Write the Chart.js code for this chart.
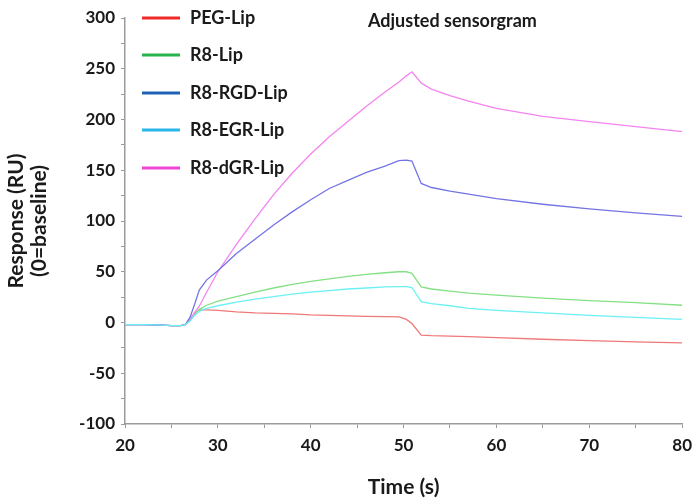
<!DOCTYPE html>
<html>
<head>
<meta charset="utf-8">
<script src="https://cdn.jsdelivr.net/npm/chart.js@4.4.1/dist/chart.umd.min.js"></script>
<style>
  html, body { margin: 0; padding: 0; background: #ffffff; }
  #wrap { width: 699px; height: 500px; position: relative; }
</style>
</head>
<body>
<div id="wrap"><canvas id="c" width="699" height="500"></canvas></div>
<script>
// ---- data ----
const timeS = [20, 22, 24, 25, 26, 26.5, 27, 27.5, 28, 28.8, 30, 32, 34, 36, 38, 40, 42, 44, 46, 48, 49.5, 50.3, 50.9, 51.9, 53, 55, 57, 60, 65, 70, 75, 80];
const pegLip  = [-2, -2, -2.5, -3, -3, -2, 2, 9, 12.5, 12.5, 12, 10.5, 9.5, 9, 8.5, 7.5, 7, 6.5, 6, 5.8, 5.5, 3, -1, -12.5, -13, -13.5, -14, -15, -16.5, -17.8, -19, -20];
const r8Lip   = [-2, -2, -2.5, -3, -3, -2, 2, 8, 13, 17, 21, 25.5, 30, 34, 37.5, 40.5, 43, 45.5, 47.5, 49, 50, 50, 48.5, 35, 33, 31, 29, 27, 24, 21.5, 19.5, 17];
const rgdLip  = [-2, -2, -2.5, -3, -3, -2, 5, 18, 32, 42, 51, 68, 82, 96, 109, 121, 132, 140, 148, 154, 159.5, 160, 159, 137, 133, 129.5, 126.5, 122, 116.5, 112, 108, 104.5];
const egrLip  = [-2, -2, -2.5, -3, -3, -2, 1.5, 7, 11, 14, 16.5, 20, 23, 25.5, 28, 30, 31.5, 33, 34, 35, 35.3, 35.3, 34.5, 20.5, 18.5, 16.5, 14, 12, 9.5, 7, 5, 3];
const dgrLip  = [-2, -2, -2.5, -3, -3, -2, 3, 10, 16, 30, 50, 77, 102, 126, 147, 166, 183, 198, 213, 227, 237, 243, 247, 236, 230, 223.5, 218, 211, 203, 198, 193, 188];

const seriesNames = ['PEG-Lip', 'R8-Lip', 'R8-RGD-Lip', 'R8-EGR-Lip', 'R8-dGR-Lip'];
const seriesValues = [pegLip, r8Lip, rgdLip, egrLip, dgrLip];
const lineColors   = ['#f07878', '#84e084', '#7474e4', '#6cf0f4', '#f484f0'];
const legendColors = ['#ee2a2a', '#2ab24e', '#1f62b4', '#29b6ea', '#f044d4'];
const drawOrder    = [4, 3, 1, 0, 2];
const yTicksMin = -100, yTicksMax = 300, yLabelStep = 50;
const xTicksMin = 20, xTicksMax = 80, xLabelStep = 10;
const chartTitle = 'Adjusted sensorgram';

const FONT = 'Lato, "Open Sans", sans-serif';
const TEXT = '#1a1a1a';
const AXIS = '#9a9a9a';

const datasets = seriesNames.map((name, i) => ({
  label: name,
  data: timeS.map((t, k) => ({ x: t, y: seriesValues[i][k] })),
  borderColor: lineColors[i],
  backgroundColor: lineColors[i],
  borderWidth: 1.3,
  pointRadius: 0,
  tension: 0,
  fill: false,
  order: drawOrder[i]
}));

const overlayPlugin = {
  id: 'overlay',
  afterDraw(chart) {
    const ctx = chart.ctx;
    ctx.save();
    ctx.font = 'bold 18px ' + FONT;
    ctx.textBaseline = 'middle';
    ctx.textAlign = 'left';
    const rows = [18, 55, 93, 130, 168];
    seriesNames.forEach((name, i) => {
      ctx.strokeStyle = legendColors[i];
      ctx.lineWidth = 3;
      ctx.beginPath();
      ctx.moveTo(142, rows[i]);
      ctx.lineTo(180, rows[i]);
      ctx.stroke();
      ctx.fillStyle = TEXT;
      ctx.fillText(name, 190, rows[i]);
    });
    ctx.font = 'bold 18px ' + FONT;
    ctx.fillText(chartTitle, 368, 21);
    ctx.restore();
  }
};

new Chart(document.getElementById('c'), {
  type: 'line',
  data: { datasets },
  options: {
    responsive: false,
    animation: false,
    devicePixelRatio: 1,
    layout: { padding: { top: 18, right: 15, left: 0, bottom: 0 } },
    plugins: { legend: { display: false }, tooltip: { enabled: false }, title: { display: false } },
    scales: {
      x: {
        type: 'linear',
        min: xTicksMin, max: xTicksMax,
        afterFit(s) { s.height = 76; },
        border: { display: true, color: AXIS, width: 1.5 },
        grid: { drawOnChartArea: false, drawTicks: true, tickLength: 4, color: AXIS },
        ticks: {
          stepSize: 5, autoSkip: false, maxRotation: 0, padding: 7,
          color: TEXT, font: { family: FONT, size: 17, weight: 'bold' },
          callback: v => (v % xLabelStep === 0 ? String(v) : '')
        },
        title: { display: true, text: 'Time (s)', color: TEXT, font: { family: FONT, size: 21, weight: 'bold' }, padding: { top: 0, bottom: 0 } }
      },
      y: {
        type: 'linear',
        min: yTicksMin, max: yTicksMax,
        afterFit(s) { s.width = 125; },
        border: { display: true, color: AXIS, width: 1.5 },
        grid: { drawOnChartArea: false, drawTicks: true, tickLength: 4, color: AXIS },
        ticks: {
          stepSize: 25, autoSkip: false, padding: 6,
          color: TEXT, font: { family: FONT, size: 17, weight: 'bold' },
          callback: v => (v % yLabelStep === 0 ? String(v) : '')
        },
        title: { display: true, text: ['Response (RU)', '(0=baseline)'], color: TEXT, font: { family: FONT, size: 21, weight: 'bold', lineHeight: 1.1 }, padding: { top: 5, bottom: 0 } }
      }
    }
  },
  plugins: [overlayPlugin]
});
</script>
</body>
</html>
